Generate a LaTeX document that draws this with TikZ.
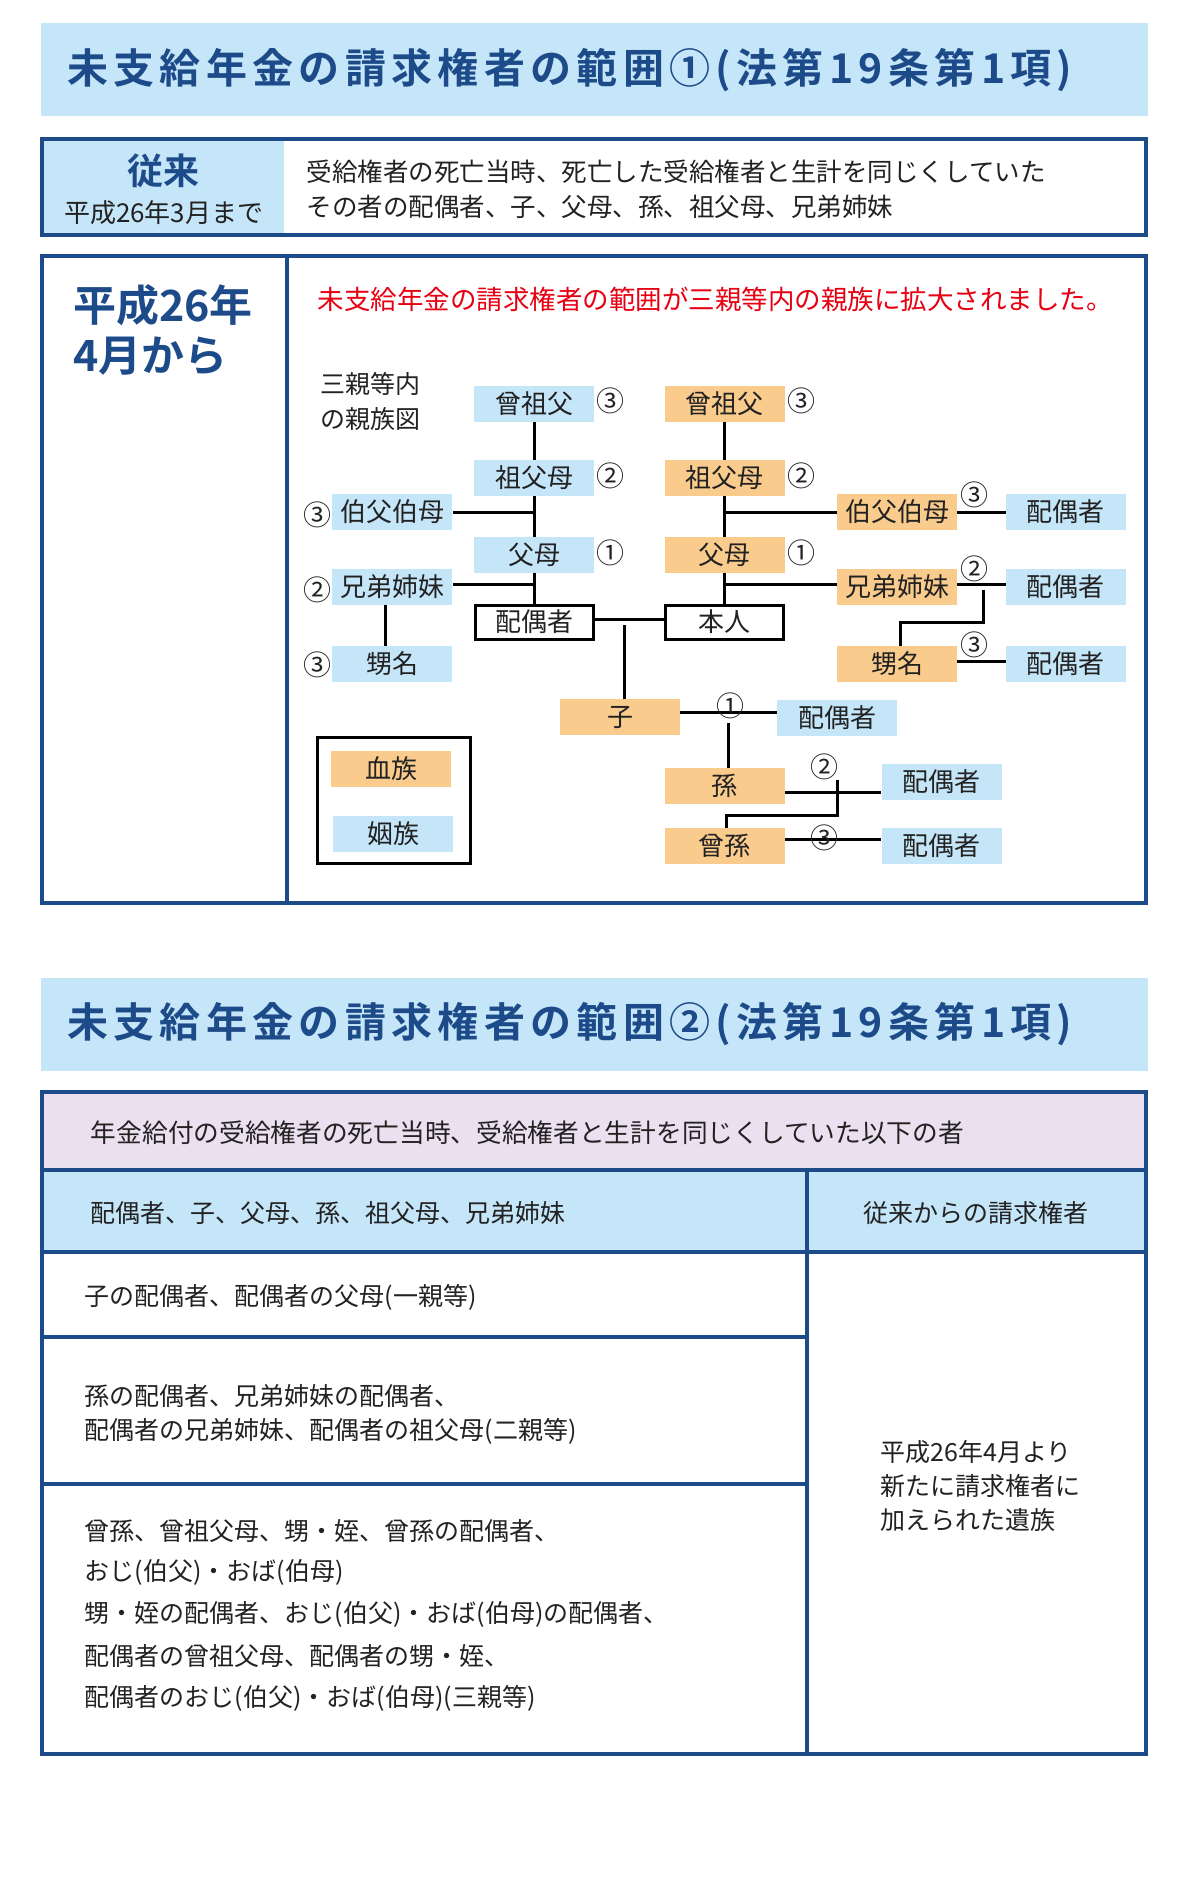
\documentclass[tikz,border=0pt]{standalone}
\usepackage{fontspec}
\usetikzlibrary{backgrounds}
\setmainfont{Noto Sans CJK JP}
\newfontfamily\jpb{Noto Sans CJK JP Bold}
\newfontfamily\jpt[LetterSpace=13]{Noto Sans CJK JP Bold}
\definecolor{lb}{HTML}{C5E5F8}
\definecolor{og}{HTML}{F9CB8C}
\definecolor{pk}{HTML}{EBE0EF}
\definecolor{db}{HTML}{1D4B8A}
\definecolor{rd}{HTML}{E60012}
\definecolor{tx}{HTML}{222222}
\tikzset{
 fs/.style={font=\fontsize{#1}{#1}\selectfont},
 bx/.style={minimum width=120pt,minimum height=36pt,inner sep=0pt,text=tx,fs=26},
 blood/.style={bx,fill=og},
 inlaw/.style={bx,fill=lb},
 selfbox/.style={bx,draw=black,line width=3pt,fill=white,minimum height=34pt,minimum width=118pt},
 num/.style={inner sep=0pt,text=tx,fs=28},
 ln/.style={line width=3pt,black},
 frame/.style={draw=db,line width=4pt},
 txt/.style={inner sep=0pt,text=tx,anchor=west},
}
\begin{document}
\begin{tikzpicture}[x=0.986pt,y=-1pt]
\useasboundingbox (0,0) rectangle (1217,1892);
\begin{pgfonlayer}{background}
\fill[white] (0,0) rectangle (1217,1892);
\end{pgfonlayer}
% title 1
\fill[lb] (42,23) rectangle (1164,116);
\node[anchor=west,inner sep=0pt,text=db,font=\fontsize{41}{41}\jpt] (t1t) at (68,70) {未支給年金の請求権者の範囲①(法第19条第1項)};
% box 従来
\fill[lb] (42,139) rectangle (288,235);
\draw[frame] (43,139) rectangle (1162,235);
\node[inner sep=0pt,text=db,font=\fontsize{36}{36}\jpb] (jr) at (166,171) {従来};
\node[inner sep=0pt,text=tx,fs=26] (jr2) at (166,213) {平成26年3月まで};
\node[txt,fs=25.5] (jl1) at (311,172) {受給権者の死亡当時、死亡した受給権者と生計を同じくしていた};
\node[txt,fs=25.5] (jl2) at (311,207) {その者の配偶者、子、父母、孫、祖父母、兄弟姉妹};
% box 2
\draw[frame] (43,256) rectangle (1162,903);
\draw[frame] (291,256) -- (291,903);
\node[anchor=west,inner sep=0pt,text=db,font=\fontsize{43}{43}\jpb] (h1) at (74,305) {平成26年};
\node[anchor=west,inner sep=0pt,text=db,font=\fontsize{43}{43}\jpb] (h2) at (74,356) {4月から};
\node[anchor=west,inner sep=0pt,text=rd,fs=26.5] (red) at (322,299) {未支給年金の請求権者の範囲が三親等内の親族に拡大されました。};
\node[txt,fs=25] (lg1) at (325,384) {三親等内};
\node[txt,fs=25] (lg2) at (325,419) {の親族図};
% left (in-law) tree
\node[inlaw] (lgg) at (542,404) {曾祖父};
\node[num] (n1) at (619,401) {③};
\node[inlaw] (lgp) at (542,478) {祖父母};
\node[num] (n2) at (619,476) {②};
\node[inlaw] (luo) at (398,512) {伯父伯母};
\node[num] (n3) at (322,515) {③};
\node[inlaw] (lpa) at (542,555) {父母};
\node[num] (n4) at (619,553) {①};
\node[inlaw] (lsib) at (398,587) {兄弟姉妹};
\node[num] (n5) at (322,590) {②};
\node[selfbox] (lsp) at (542,622) {配偶者};
\node[inlaw] (lne) at (398,664) {甥名};
\node[num] (n6) at (322,665) {③};
% right (blood) tree
\node[blood] (rgg) at (735,404) {曾祖父};
\node[num] (m1) at (813,401) {③};
\node[blood] (rgp) at (735,478) {祖父母};
\node[num] (m2) at (813,476) {②};
\node[blood] (rpa) at (735,555) {父母};
\node[num] (m3) at (813,553) {①};
\node[selfbox] (self) at (735,622) {本人};
\node[blood] (ruo) at (910,512) {伯父伯母};
\node[num] (m4) at (988,495) {③};
\node[inlaw] (ruosp) at (1081,512) {配偶者};
\node[blood] (rsib) at (910,587) {兄弟姉妹};
\node[num] (m5) at (988,569) {②};
\node[inlaw] (rsibsp) at (1081,587) {配偶者};
\node[blood] (rne) at (910,664) {甥名};
\node[num] (m6) at (988,645) {③};
\node[inlaw] (rnesp) at (1081,664) {配偶者};
\node[blood] (ko) at (629,717) {子};
\node[num] (m7) at (741,706) {①};
\node[inlaw] (kosp) at (849,718) {配偶者};
\node[blood] (mago) at (735,786) {孫};
\node[num] (m8) at (836,767) {②};
\node[inlaw] (magosp) at (955,782) {配偶者};
\node[blood] (hi) at (735,846) {曾孫};
\node[num] (m9) at (836,838) {③};
\node[inlaw] (hisp) at (955,846) {配偶者};
% legend
\draw[line width=3pt] (322,737) rectangle (477,863);
\node[blood] (lgb) at (397,769) {血族};
\node[inlaw] (lgi) at (399,834) {姻族};
% connectors
\begin{pgfonlayer}{background}
\draw[ln] (lgg.south) -- (lsp.north);
\draw[ln] (luo.east) -- (luo.east -| lgg.south);
\draw[ln] ([yshift=3pt]lsib.east) -- ([yshift=3pt]lsib.east -| lgg.south);
\draw[ln] ([xshift=-7pt]lsib.south) -- ([xshift=-7pt]lne.north);
\draw[ln] (rgg.south) -- (self.north);
\draw[ln] (ruo.west) -- (ruo.west -| rgg.south);
\draw[ln] ([yshift=3pt]rsib.west) -- ([yshift=3pt]rsib.west -| rgg.south);
\draw[ln] (ruo.east) -- (ruosp.west);
\draw[ln] ([yshift=3pt]rsib.east) -- ([yshift=3pt]rsibsp.west);
\coordinate (j1) at (997,590);
\coordinate (j2) at (997,622);
\draw[ln] (j1) -- (j2) -| ([xshift=3pt]rne.north);
\draw[ln] ([yshift=3pt]rne.east) -- ([yshift=3pt]rnesp.west);
\draw[ln] ([yshift=3pt]lsp.east) -- ([yshift=3pt]self.west);
\coordinate (j3) at (633,625);
\draw[ln] (j3) -- (j3 |- ko.north);
\draw[ln] ([yshift=5pt]ko.east) -- ([yshift=5pt]ko.east -| kosp.west);
\coordinate (j4) at (739,723);
\draw[ln] (j4) -- (j4 |- mago.north);
\draw[ln] ([yshift=-6pt]mago.east) -- ([yshift=-6pt]mago.east -| magosp.west);
\coordinate (j5) at (849,780);
\coordinate (j6) at (849,815);
\draw[ln] (j5) -- (j6) -| ([xshift=2pt]hi.north);
\draw[ln] ([yshift=7pt]hi.east) -- ([yshift=7pt]hisp.west);
\end{pgfonlayer}
% title 2
\fill[lb] (42,978) rectangle (1164,1071);
\node[anchor=west,inner sep=0pt,text=db,font=\fontsize{41}{41}\jpt] (t2t) at (68,1024) {未支給年金の請求権者の範囲②(法第19条第1項)};
% table
\fill[pk] (43,1092) rectangle (1162,1170);
\fill[lb] (43,1170) rectangle (1162,1252);
\draw[frame] (43,1092) rectangle (1162,1754);
\draw[frame] (43,1170) -- (1162,1170);
\draw[frame] (43,1252) -- (1162,1252);
\draw[frame] (43,1337) -- (818,1337);
\draw[frame] (43,1484) -- (818,1484);
\draw[frame] (818,1170) -- (818,1754);
\node[txt,fs=25.7] (r1) at (92,1133) {年金給付の受給権者の死亡当時、受給権者と生計を同じくしていた以下の者};
\node[txt,fs=25] (r2) at (92,1213) {配偶者、子、父母、孫、祖父母、兄弟姉妹};
\node[inner sep=0pt,text=tx,fs=25] (r2b) at (990,1213) {従来からの請求権者};
\node[txt,fs=25] (r3) at (86,1297) {子の配偶者、配偶者の父母(一親等)};
\node[txt,fs=25] (r4a) at (86,1396) {孫の配偶者、兄弟姉妹の配偶者、};
\node[txt,fs=25] (r4b) at (86,1431) {配偶者の兄弟姉妹、配偶者の祖父母(二親等)};
\node[txt,fs=25] (r5a) at (86,1531) {曾孫、曾祖父母、甥・姪、曾孫の配偶者、};
\node[txt,fs=25] (r5b) at (86,1572) {おじ(伯父)・おば(伯母)};
\node[txt,fs=25] (r5c) at (86,1614) {甥・姪の配偶者、おじ(伯父)・おば(伯母)の配偶者、};
\node[txt,fs=25] (r5d) at (86,1656) {配偶者の曾祖父母、配偶者の甥・姪、};
\node[txt,fs=25] (r5e) at (86,1698) {配偶者のおじ(伯父)・おば(伯母)(三親等)};
\node[txt,fs=25] (q1) at (893,1452) {平成26年4月より};
\node[txt,fs=25] (q2) at (893,1486) {新たに請求権者に};
\node[txt,fs=25] (q3) at (893,1520) {加えられた遺族};
\end{tikzpicture}
\end{document}
